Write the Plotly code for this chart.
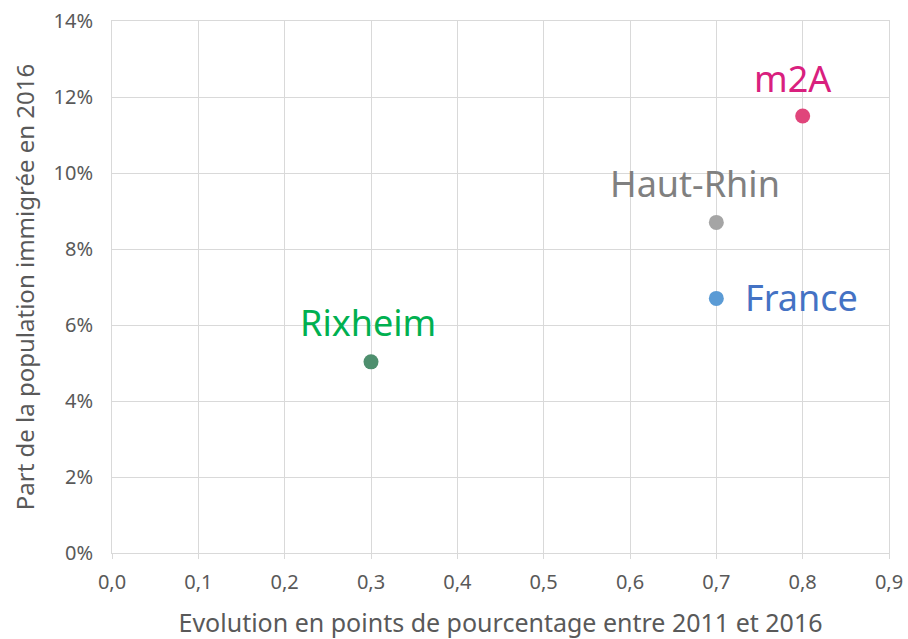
import plotly.graph_objects as go

# Data
territoires = ["Rixheim", "France", "Haut-Rhin", "m2A"]
evolution_pts = [0.3, 0.7, 0.7, 0.8]          # evolution 2011-2016 (points)
part_immigree = [5.03, 6.7, 8.7, 11.5]        # share of immigrants in 2016 (%)

marker_colors = ["#4E8F6E", "#5B9BD5", "#A5A5A5", "#E0457B"]
label_colors = ["#00B050", "#4472C4", "#808080", "#D9207E"]

# label placement relative to each point (px)
LABEL_POS = {
    "Rixheim": dict(xanchor="center", yanchor="middle", xshift=-3, yshift=39),
    "France": dict(xanchor="left", yanchor="middle", xshift=27, yshift=1),
    "Haut-Rhin": dict(xanchor="center", yanchor="middle", xshift=-21, yshift=39),
    "m2A": dict(xanchor="center", yanchor="middle", xshift=-10, yshift=38),
}

FONT = "Noto Sans"
GREY = "#595959"

fig = go.Figure(
    go.Scatter(
        x=evolution_pts,
        y=part_immigree,
        mode="markers",
        marker=dict(size=15, color=marker_colors),
        hovertemplate="%{text}: %{x:.1f} / %{y:.1f}%<extra></extra>",
        text=territoires,
    )
)

for name, x, y, c in zip(territoires, evolution_pts, part_immigree, label_colors):
    fig.add_annotation(
        x=x, y=y, xref="x", yref="y", text=name, showarrow=False,
        font=dict(family=FONT, size=36, color=c), **LABEL_POS[name],
    )

axis_common = dict(
    automargin=False,
    showgrid=True,
    gridcolor="#D9D9D9",
    gridwidth=1,
    zeroline=False,
    showline=True,
    mirror=True,
    linecolor="#D9D9D9",
    ticklabeloverflow="allow",
    tickfont=dict(size=20, color=GREY),
)

fig.update_layout(
    width=908,
    height=639,
    separators=", ",
    showlegend=False,
    plot_bgcolor="white",
    paper_bgcolor="white",
    font=dict(family=FONT, color=GREY),
    margin=dict(l=112, r=19, t=21, b=86),
    xaxis=dict(
        range=[0, 0.9],
        dtick=0.1,
        tickformat=".1f",
        ticks="outside",
        tickcolor="#D9D9D9",
        ticklen=5,
        ticklabelstandoff=6,
        title=dict(text="Evolution en points de pourcentage entre 2011 et 2016",
                   font=dict(size=25, color=GREY), standoff=24),
        **axis_common,
    ),
    yaxis=dict(
        range=[0, 14],
        dtick=2,
        ticksuffix="%",
        ticklabelstandoff=14,
        title=dict(text="Part de la population immigrée en 2016",
                   font=dict(size=24, color=GREY), standoff=12),
        **axis_common,
    ),
)

# drop the default 8px body margin so the figure fills the window exactly
fig.write_html(
    "out.html",
    config={"displayModeBar": False},
    post_script="document.body.style.margin='0';",
)
